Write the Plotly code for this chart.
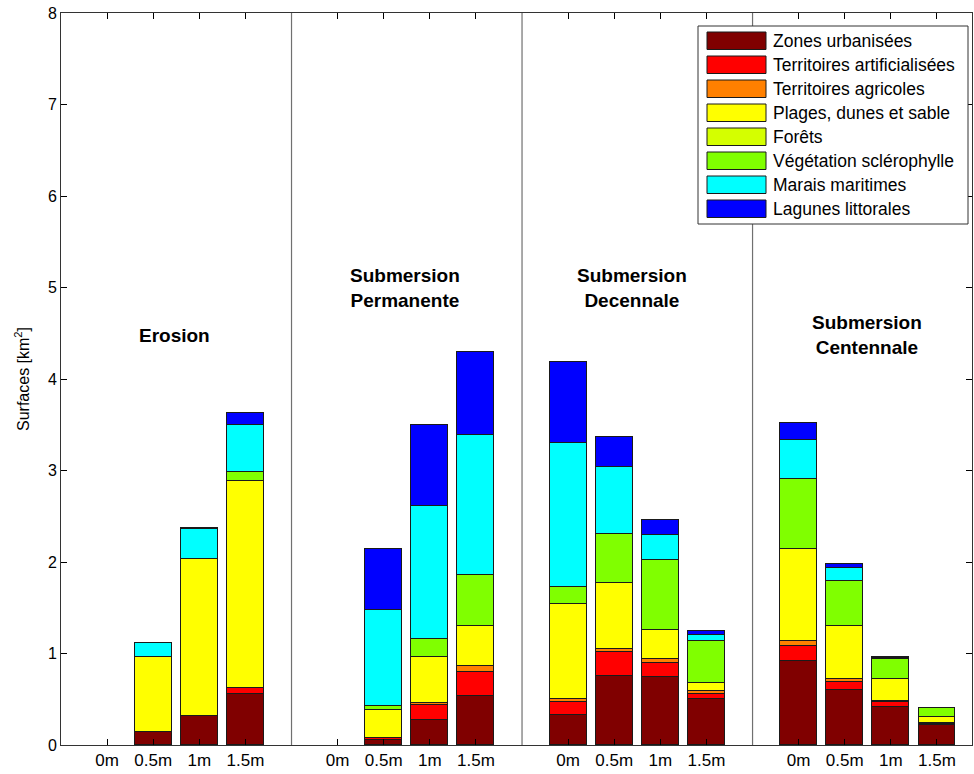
import plotly.graph_objects as go

# Scenarios and sea-level rise levels
scenarios = ["Erosion", "Submersion<br>Permanente", "Submersion<br>Decennale", "Submersion<br>Centennale"]
levels = ["0m", "0.5m", "1m", "1.5m"]

# Land-cover classes (stack order, bottom to top) and their colours
classes = [
    "Zones urbanisées",
    "Territoires artificialisées",
    "Territoires agricoles",
    "Plages, dunes et sable",
    "Forêts",
    "Végétation sclérophylle",
    "Marais maritimes",
    "Lagunes littorales",
]
colors = ["#800000", "#ff0000", "#ff8000", "#ffff00", "#d4ff00", "#80ff00", "#00ffff", "#0000ff"]

# Surfaces in km² — one value per (scenario, level), scenarios in order above
zones_urbanisees = [None, 0.14, 0.317, 0.557, None, 0.06, 0.275, 0.535, 0.33, 0.754, 0.743, 0.503, 0.918, 0.60, 0.42, 0.22]
territoires_artificialises = [None, None, None, 0.063, None, 0.012, 0.16, 0.265, 0.145, 0.262, 0.157, 0.057, 0.164, 0.09, 0.05, 0.012]
territoires_agricoles = [None, None, None, None, None, 0.005, 0.02, 0.063, 0.025, 0.03, 0.04, 0.027, 0.05, 0.035, 0.014, 0.01]
plages_dunes_sable = [None, 0.825, 1.713, 2.26, None, 0.31, 0.51, 0.44, 1.04, 0.72, 0.317, 0.087, 1.01, 0.575, 0.234, 0.06]
forets = [None] * 16
vegetation_sclerophylle = [None, None, None, 0.10, None, 0.04, 0.19, 0.56, 0.19, 0.535, 0.763, 0.46, 0.765, 0.49, 0.22, 0.10]
marais_maritimes = [None, 0.153, 0.33, 0.52, None, 1.045, 1.46, 1.52, 1.57, 0.74, 0.27, 0.067, 0.43, 0.14, 0.015, None]
lagunes_littorales = [None, None, 0.01, 0.125, None, 0.675, 0.885, 0.91, 0.89, 0.33, 0.17, 0.05, 0.18, 0.05, 0.012, None]

series = [
    zones_urbanisees,
    territoires_artificialises,
    territoires_agricoles,
    plages_dunes_sable,
    forets,
    vegetation_sclerophylle,
    marais_maritimes,
    lagunes_littorales,
]

# Each scenario occupies 5 slots: 4 bars plus a gap where the separator sits
n_lev = len(levels)
xpos = [g * (n_lev + 1) + i + 1 for g in range(len(scenarios)) for i in range(n_lev)]
ticktext = levels * len(scenarios)

FONT = "Liberation Sans, Arial, Helvetica, sans-serif"
EDGE = "#1a1a1a"

# Figure / plot-area geometry (pixels)
W, H = 974, 774
ML, MR, MT, MB = 61, 2, 13, 29
PW, PH = W - ML - MR, H - MT - MB


def px_x(px):
    return (px - ML) / PW


def px_y(py):
    return (H - MB - py) / PH


fig = go.Figure()
for name, col, vals in zip(classes, colors, series):
    fig.add_trace(go.Bar(
        x=xpos, y=vals, name=name, width=0.8, showlegend=False,
        marker=dict(color=col, line=dict(color=EDGE, width=1)),
    ))

# Vertical separators between scenarios
for g in range(1, len(scenarios)):
    sep = g * (n_lev + 1)
    fig.add_shape(type="line", x0=sep, x1=sep, y0=0, y1=1, xref="x", yref="paper",
                  line=dict(color="#707070", width=1.2))

# Scenario titles
title_pos = [(2.47, 4.48), (7.46, 5.0), (12.38, 5.0), (17.48, 4.48)]
for label, (tx, ty) in zip(scenarios, title_pos):
    fig.add_annotation(x=tx, y=ty, text=f"<b>{label}</b>", showarrow=False,
                       font=dict(family=FONT, size=19, color="black"), align="center")

# Legend box with wide colour swatches
box_l, box_r, box_t, box_b = 698, 968, 26, 224
fig.add_shape(type="rect", xref="paper", yref="paper",
              x0=px_x(box_l), x1=px_x(box_r), y0=px_y(box_b), y1=px_y(box_t),
              fillcolor="white", line=dict(color="#333", width=1), layer="above")
sw_l, sw_r, sw_t0, sw_h, step = 707, 766, 32, 17.5, 24
for k, (name, col) in enumerate(zip(classes, colors)):
    top = sw_t0 + k * step
    fig.add_shape(type="rect", xref="paper", yref="paper",
                  x0=px_x(sw_l), x1=px_x(sw_r), y0=px_y(top + sw_h), y1=px_y(top),
                  fillcolor=col, line=dict(color=EDGE, width=1), layer="above")
    fig.add_annotation(xref="paper", yref="paper", x=px_x(771), y=px_y(top + sw_h / 2),
                       xanchor="left", yanchor="middle", text=name, showarrow=False,
                       font=dict(family=FONT, size=17.5, color="black"))

fig.update_layout(
    width=W, height=H,
    margin=dict(l=ML, r=MR, t=MT, b=MB),
    barmode="stack",
    paper_bgcolor="white", plot_bgcolor="white",
    font=dict(family=FONT, color="black"),
    bargap=0,
    showlegend=False,
)
fig.update_xaxes(
    range=[0, 19.76], tickvals=xpos, ticktext=ticktext,
    ticks="inside", ticklen=6, tickcolor="black",
    showline=True, linecolor="#333", linewidth=1, mirror="ticks",
    showgrid=False, zeroline=False,
    tickfont=dict(family=FONT, size=17),
)
fig.update_yaxes(
    range=[0, 8], dtick=1,
    ticks="inside", ticklen=6, tickcolor="black",
    showline=True, linecolor="#333", linewidth=1, mirror="ticks",
    showgrid=False, zeroline=False,
    tickfont=dict(family=FONT, size=16),
    title=dict(text="Surfaces [km<sup>2</sup>]", font=dict(family=FONT, size=16), standoff=14),
)

fig.write_html("out.html")
